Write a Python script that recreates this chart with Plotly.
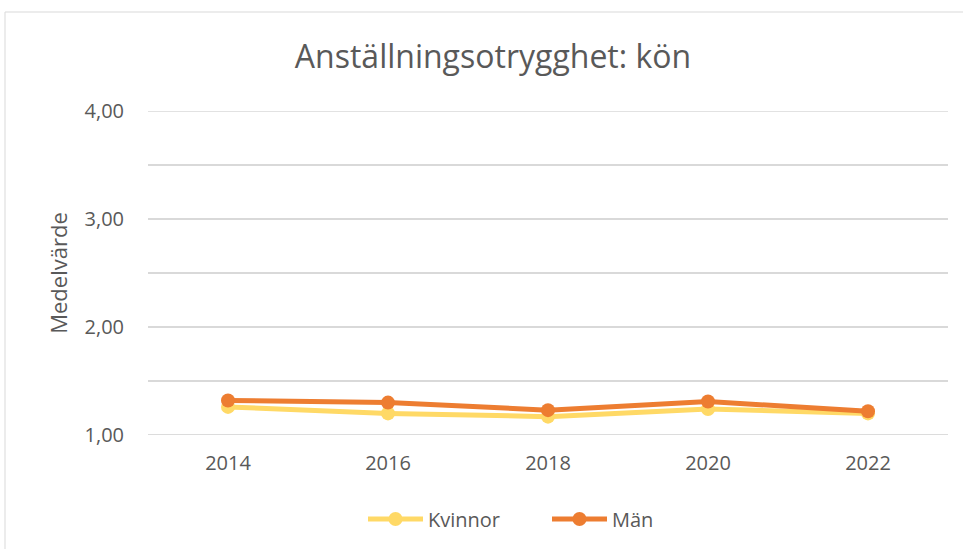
import plotly.graph_objects as go

years = ["2014", "2016", "2018", "2020", "2022"]
kvinnor = [1.26, 1.20, 1.17, 1.24, 1.20]
man = [1.32, 1.30, 1.23, 1.31, 1.22]
y_tickvals = [1.0, 1.5, 2.0, 2.5, 3.0, 3.5, 4.0]
y_ticktext = ["1,00", "", "2,00", "", "3,00", "", "4,00"]

W, H = 963, 549
L, R, T, B = 148, 15, 111, 114
pw, ph = W - L - R, H - T - B

font = "'Open Sans', sans-serif"
grey = "#595959"

fig = go.Figure()
fig.add_trace(go.Scatter(x=years, y=kvinnor, name="Kvinnor", mode="lines+markers",
                         line=dict(color="#FFD966", width=5),
                         marker=dict(color="#FFD966", size=14)))
fig.add_trace(go.Scatter(x=years, y=man, name="Män", mode="lines+markers",
                         line=dict(color="#ED7D31", width=5),
                         marker=dict(color="#ED7D31", size=14)))

def px(x):
    return (x - L) / pw

def py(y):
    return (H - B - y) / ph

fig.update_layout(
    width=W, height=H,
    margin=dict(l=L, r=R, t=T, b=B, autoexpand=False),
    paper_bgcolor="white", plot_bgcolor="white",
    font=dict(family=font, color=grey, size=20),
    title=dict(text="Anställningsotrygghet: kön", x=493 / W, xref="container", xanchor="center",
               y=1 - 57 / H, yanchor="middle", yref="container",
               font=dict(size=32, color=grey, family=font)),
    xaxis=dict(type="category", range=[-0.5, 4.5], showgrid=False, zeroline=False,
               showline=False, ticks="", ticklabelstandoff=14,
               tickfont=dict(size=20, color=grey)),
    yaxis=dict(range=[1, 4], tickvals=y_tickvals, ticktext=y_ticktext,
               showgrid=True, gridcolor="#D9D9D9", gridwidth=1.5, zeroline=False,
               ticks="", ticklabelstandoff=23, tickfont=dict(size=20, color=grey),
               title=dict(text="Medelvärde", font=dict(size=22, color=grey), standoff=10)),
    legend=dict(orientation="h", x=px(363), xanchor="left", y=py(519), yanchor="middle",
                font=dict(size=20, color=grey), traceorder="normal",
                itemwidth=55, entrywidth=114),
    showlegend=True,
)

# edge gridlines (plotly drops grid lines lying on the plot-area border)
for v, c, w in [(y_tickvals[-1], "#D9D9D9", 1.5), (y_tickvals[0], "#D0D0D0", 1.5)]:
    fig.add_shape(type="line", xref="paper", yref="y", x0=0, x1=1, y0=v, y1=v,
                  line=dict(color=c, width=w), layer="below")

fig.add_shape(type="rect", xref="paper", yref="paper",
              x0=px(5), x1=px(975), y0=py(560), y1=py(12),
              line=dict(color="#D9D9D9", width=1), layer="below")

fig.write_html("out.html", config={"displayModeBar": False},
               post_script="document.body.style.margin='0';document.body.style.overflow='hidden';")
